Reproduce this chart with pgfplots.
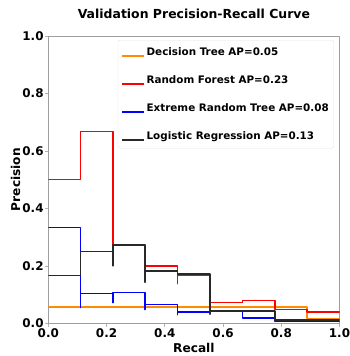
\documentclass[border=0pt]{standalone}
\usepackage{pgfplots}
\pgfplotsset{compat=1.18}
\usepackage{fontspec}
\setmainfont{DejaVu Sans}
\definecolor{mplorange}{RGB}{255,140,0}
\definecolor{mplred}{RGB}{255,0,0}
\definecolor{mplblue}{RGB}{0,0,255}
\definecolor{mplblack}{RGB}{40,40,40}
\begin{document}
\begin{tikzpicture}[line join=round]
\begin{axis}[
  at={(0,0)}, anchor=south west,
  scale only axis, width=291.2bp, height=287.3bp,
  xmin=0, xmax=1, ymin=0, ymax=1,
  axis line style={gray!75},
  tick align=outside, tick pos=left,
  major tick length=3.5bp,
  tick style={gray!60, line width=0.6bp},
  xtick={0,0.2,0.4,0.6,0.8,1},
  ytick={0,0.2,0.4,0.6,0.8,1},
  /pgf/number format/.cd, fixed, fixed zerofill, precision=1, assume math mode=true,
  /pgfplots/.cd,
  ticklabel style={font=\fontsize{12}{12}\selectfont\bfseries},
  xticklabel style={anchor=base, yshift=-11bp},
  yticklabel style={anchor=east, inner sep=0pt, xshift=-1bp},
  title={Validation Precision-Recall Curve},
  title style={at={(axis description cs:0.5,1.0616)}, anchor=base, yshift=-6pt, font=\fontsize{12.5}{12.5}\selectfont\bfseries, inner sep=0pt},
  xlabel={Recall},
  xlabel style={at={(axis description cs:0.5,-0.1)}, anchor=base, font=\fontsize{12.2}{12.2}\selectfont\bfseries, inner sep=0pt},
  ylabel={Precision},
  ylabel style={at={(axis description cs:-0.097,0.5)}, anchor=base, rotate=0, font=\fontsize{12.2}{12.2}\selectfont\bfseries, inner sep=0pt},
  legend style={at={(axis description cs:0.981,0.986)}, anchor=north east,
    draw=gray!20, rounded corners=2bp, fill=white,
    font=\fontsize{10.4}{10.4}\selectfont\bfseries,
    row sep=14bp, inner xsep=3bp, inner ysep=5bp,
    nodes={inner sep=2bp, text height=8bp, text depth=2bp}},
  legend cell align=left,
  legend image code/.code={\draw[#1, line width=1.6bp] (0bp,-4bp) -- (22bp,-4bp);},
]
\addplot[draw=mplorange, line width=1.6bp, line join=round] coordinates {(0,0.056) (0.889,0.056) (0.889,0.017) (1,0.017)};
\addlegendentry{Decision Tree AP=0.05}
\addplot[draw=mplred, line width=1.6bp, line join=round] coordinates {(0,0.5) (0.111,0.5) (0.111,0.667) (0.222,0.667) (0.222,0.273) (0.333,0.273) (0.333,0.2) (0.444,0.2) (0.444,0.138) (0.444,0.167) (0.556,0.167) (0.556,0.073) (0.667,0.073) (0.667,0.079) (0.778,0.079) (0.778,0.048) (0.889,0.048) (0.889,0.040) (1,0.040)};
\addlegendentry{Random Forest AP=0.23}
\addplot[draw=mplblue, line width=1.6bp, line join=round] coordinates {(0,0.333) (0.111,0.333) (0.111,0.055) (0.111,0.104) (0.222,0.104) (0.222,0.072) (0.222,0.107) (0.333,0.107) (0.333,0.048) (0.333,0.065) (0.444,0.065) (0.444,0.03) (0.444,0.039) (0.556,0.039) (0.556,0.045) (0.667,0.045) (0.667,0.018) (0.778,0.018) (0.778,0.006) (1,0.006)};
\addlegendentry{Extreme Random Tree AP=0.08}
\addplot[draw=mplblack, line width=1.6bp, line join=round] coordinates {(0,0.167) (0.111,0.167) (0.111,0.25) (0.222,0.25) (0.222,0.2) (0.222,0.273) (0.333,0.273) (0.333,0.143) (0.333,0.182) (0.444,0.182) (0.444,0.171) (0.556,0.171) (0.556,0.032) (0.556,0.042) (0.778,0.042) (0.778,0.012) (1,0.012)};
\addlegendentry{Logistic Regression AP=0.13}
\end{axis}
\pgfresetboundingbox
\path (-48.3bp,-32.7bp) rectangle (301.7bp,323.3bp);
\end{tikzpicture}
\end{document}
